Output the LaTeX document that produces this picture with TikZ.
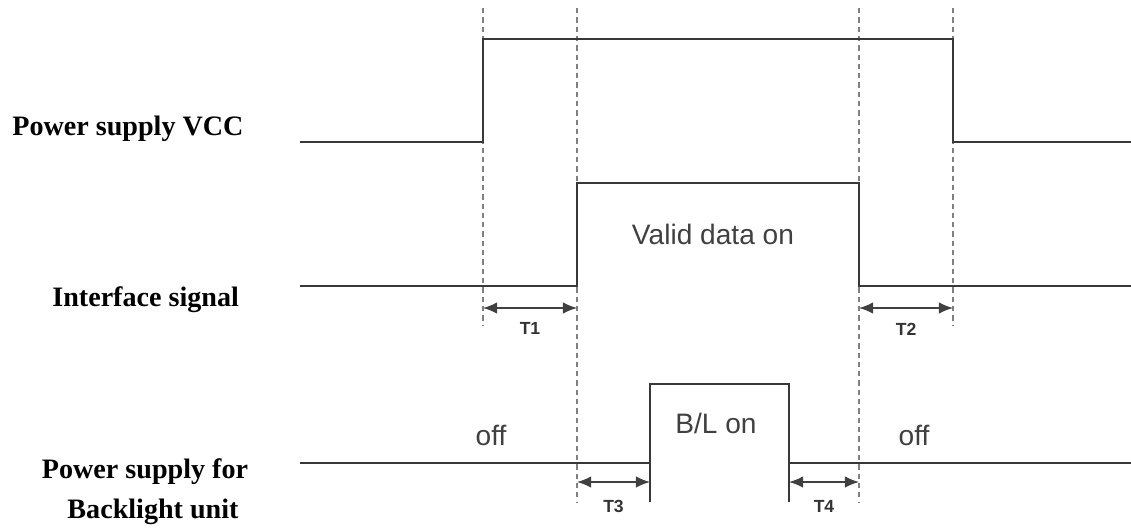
\documentclass[tikz,border=0pt]{standalone}
\usepackage{fontspec}
\setmainfont{Liberation Serif}
\setsansfont{Liberation Sans}
\usetikzlibrary{calc,
	positioning,
	arrows,
	arrows.meta}
\tikzstyle{signal}=[draw=black!78, line width=1pt, line join=miter]
\tikzstyle{guide}=[draw=black!50, line width=0.6pt, dash pattern=on 3pt off 2.3pt]
\tikzstyle{tarrow}=[{Latex[length=8pt,width=6.5pt]}-{Latex[length=8pt,width=6.5pt]}, draw=black!75, line width=0.8pt]
\tikzstyle{tlabel}=[font=\sffamily\bfseries\fontsize{10}{12}\selectfont, text=black!80, inner sep=0]
\tikzstyle{sname}=[font=\bfseries\fontsize{16}{19}\selectfont, inner sep=0]
\tikzstyle{state}=[font=\sffamily\fontsize{16}{19}\selectfont, text=black!75, inner sep=0]
\begin{document}
\begin{tikzpicture}[x=0.02cm, y=-0.02cm]
	\useasboundingbox (0,0) rectangle (1131,527);
	% time marks
	\coordinate (a) at (483,0);
	\coordinate (b) at (577,0);
	\coordinate (c) at (859,0);
	\coordinate (d) at (953,0);
	\coordinate (on) at (650,0);
	\coordinate (off) at (789,0);
	% dashed guides
	\draw[guide] ($(a)+(0,8)$) -- ($(a)+(0,325)$);
	\draw[guide] ($(b)+(0,8)$) -- ($(b)+(0,502)$);
	\draw[guide] ($(c)+(0,8)$) -- ($(c)+(0,502)$);
	\draw[guide] ($(d)+(0,8)$) -- ($(d)+(0,325)$);
	% signal names
	\node[sname, anchor=base west] (vcc) at (12,135) {Power supply VCC};
	\node[sname, anchor=base west] (ifs) at (52,306) {Interface signal};
	\node[sname, anchor=base] (bl1) at (145,478) {Power supply for};
	\node[sname, anchor=base] (bl2) at (153,518) {Backlight unit};
	% waveforms
	\draw[signal, line width=1.4pt] (300,142) -- ($(a)+(0,142)$) -- ($(a)+(0,39)$)
		-- ($(d)+(0,39)$) -- ($(d)+(0,142)$) -- (1131,142);
	\draw[signal, line width=0.9pt] (300,286) -- ($(b)+(0,286)$) -- ($(b)+(0,183)$)
		-- ($(c)+(0,183)$) -- ($(c)+(0,286)$) -- (1131,286);
	\draw[signal] (300,463) -- ($(on)+(0,463)$) -- ($(on)+(0,384)$)
		-- ($(off)+(0,384)$) -- ($(off)+(0,463)$) -- (1131,463);
	\draw[signal, line width=1.2pt] ($(on)+(0,463)$) -- ($(on)+(0,502)$);
	\draw[signal, line width=1.2pt] ($(off)+(0,463)$) -- ($(off)+(0,502)$);
	% states
	\node[state] (valid) at (713,234) {Valid data on};
	\node[state] (blon) at (716,423) {B/L on};
	\node[state] (off1) at (491,435) {off};
	\node[state] (off2) at (914,435) {off};
	% timing
	\draw[tarrow] ($(a)+(0,308)$) -- node[tlabel, below=8pt] (t1) {T1} ($(b)+(0,308)$);
	\draw[tarrow] ($(c)+(0,308)$) -- node[tlabel, below=8pt] (t2) {T2} ($(d)+(0,308)$);
	\draw[tarrow] ($(b)+(0,482)$) -- node[tlabel, below=10pt] (t3) {T3} ($(on)+(0,482)$);
	\draw[tarrow] ($(off)+(0,482)$) -- node[tlabel, below=10pt] (t4) {T4} ($(c)+(0,482)$);
\end{tikzpicture}
\end{document}
